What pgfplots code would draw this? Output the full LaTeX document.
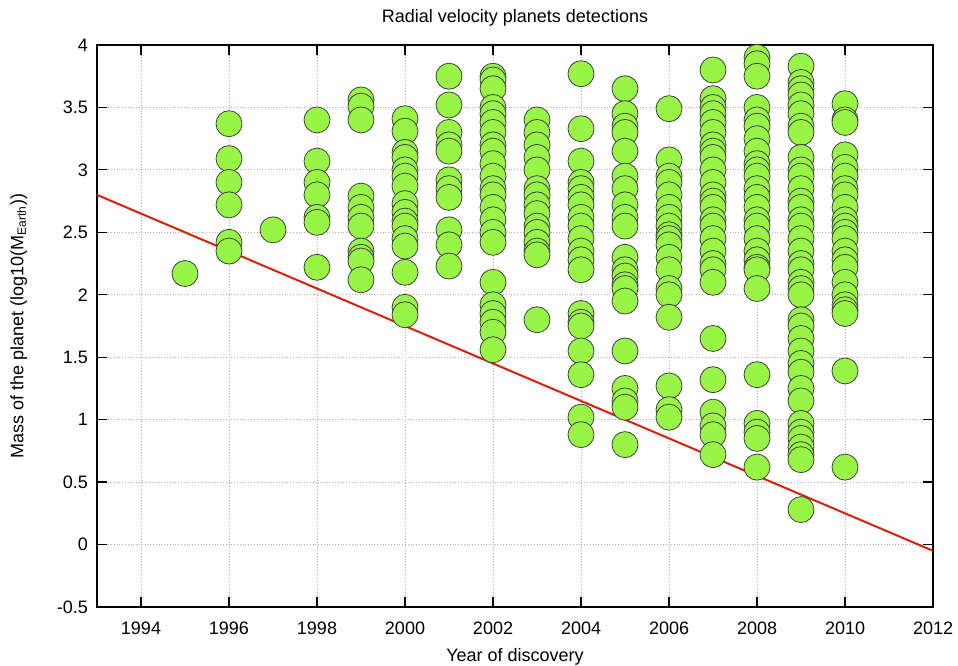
\documentclass[border=0pt]{standalone}
\usepackage{pgfplots}
\pgfplotsset{compat=1.18}
\usepackage{fontspec}
\setmainfont{Liberation Sans}
\definecolor{ptgreen}{RGB}{152,245,70}
\definecolor{fitred}{RGB}{218,32,12}

\pgfplotstableread{
year mass
1995 2.17
1996 3.37
1996 3.09
1996 2.90
1996 2.72
1996 2.42
1996 2.35
1997 2.52
1998 3.40
1998 3.07
1998 2.90
1998 2.80
1998 2.62
1998 2.58
1998 2.22
1999 3.56
1999 3.51
1999 3.40
1999 2.79
1999 2.70
1999 2.62
1999 2.55
1999 2.35
1999 2.30
1999 2.27
1999 2.12
2000 3.41
2000 3.31
2000 3.14
2000 3.10
2000 3.00
2000 2.95
2000 2.87
2000 2.73
2000 2.66
2000 2.59
2000 2.55
2000 2.45
2000 2.39
2000 2.18
2000 1.90
2000 1.84
2001 3.75
2001 3.52
2001 3.30
2001 3.20
2001 3.15
2001 2.92
2001 2.85
2001 2.78
2001 2.52
2001 2.40
2001 2.23
2002 3.75
2002 3.72
2002 3.65
2002 3.50
2002 3.45
2002 3.38
2002 3.30
2002 3.20
2002 3.15
2002 3.05
2002 2.95
2002 2.85
2002 2.80
2002 2.70
2002 2.60
2002 2.50
2002 2.42
2002 2.10
2002 1.92
2002 1.85
2002 1.78
2002 1.70
2002 1.56
2003 3.40
2003 3.30
2003 3.20
2003 3.10
2003 3.00
2003 2.85
2003 2.80
2003 2.72
2003 2.65
2003 2.55
2003 2.50
2003 2.42
2003 2.35
2003 2.32
2003 1.80
2004 3.77
2004 3.33
2004 3.07
2004 2.90
2004 2.85
2004 2.78
2004 2.72
2004 2.62
2004 2.55
2004 2.45
2004 2.35
2004 2.28
2004 2.20
2004 1.85
2004 1.78
2004 1.75
2004 1.55
2004 1.36
2004 1.02
2004 0.88
2005 3.65
2005 3.45
2005 3.35
2005 3.30
2005 3.15
2005 2.95
2005 2.85
2005 2.72
2005 2.62
2005 2.55
2005 2.30
2005 2.20
2005 2.15
2005 2.08
2005 2.05
2005 1.95
2005 1.55
2005 1.25
2005 1.15
2005 1.10
2005 0.80
2006 3.49
2006 3.08
2006 2.95
2006 2.90
2006 2.80
2006 2.70
2006 2.62
2006 2.55
2006 2.48
2006 2.45
2006 2.40
2006 2.30
2006 2.20
2006 2.05
2006 2.00
2006 1.82
2006 1.27
2006 1.08
2006 1.02
2007 3.80
2007 3.57
2007 3.50
2007 3.45
2007 3.38
2007 3.30
2007 3.20
2007 3.15
2007 3.10
2007 3.00
2007 2.90
2007 2.80
2007 2.75
2007 2.70
2007 2.60
2007 2.55
2007 2.45
2007 2.35
2007 2.25
2007 2.20
2007 2.10
2007 1.65
2007 1.32
2007 1.06
2007 0.95
2007 0.88
2007 0.72
2008 3.90
2008 3.85
2008 3.75
2008 3.50
2008 3.40
2008 3.35
2008 3.25
2008 3.15
2008 3.05
2008 3.00
2008 2.95
2008 2.85
2008 2.78
2008 2.70
2008 2.60
2008 2.55
2008 2.45
2008 2.35
2008 2.28
2008 2.22
2008 2.20
2008 2.05
2008 1.36
2008 0.97
2008 0.90
2008 0.85
2008 0.62
2009 3.83
2009 3.70
2009 3.65
2009 3.60
2009 3.52
2009 3.45
2009 3.35
2009 3.30
2009 3.10
2009 3.00
2009 2.95
2009 2.85
2009 2.75
2009 2.70
2009 2.60
2009 2.55
2009 2.45
2009 2.35
2009 2.25
2009 2.20
2009 2.10
2009 2.05
2009 2.00
2009 1.80
2009 1.75
2009 1.65
2009 1.55
2009 1.45
2009 1.38
2009 1.25
2009 1.15
2009 0.97
2009 0.90
2009 0.85
2009 0.78
2009 0.72
2009 0.68
2009 0.28
2010 3.53
2010 3.40
2010 3.38
2010 3.12
2010 3.02
2010 2.95
2010 2.85
2010 2.80
2010 2.70
2010 2.60
2010 2.55
2010 2.50
2010 2.45
2010 2.35
2010 2.28
2010 2.22
2010 2.10
2010 2.00
2010 1.92
2010 1.88
2010 1.85
2010 1.39
2010 0.62
}\planets

\begin{document}
\begin{tikzpicture}
\begin{axis}[
    scale only axis,
    width=418pt, height=281pt,
    xmin=1993, xmax=2012,
    ymin=-0.5, ymax=4,
    xtick={1994,1996,...,2012},
    ytick={-0.5,0,...,4},
    tick align=inside,
    major tick length=5pt,
    tick style={black, line width=0.6pt},
    axis line style={black, line width=0.8pt},
    grid=major,
    grid style={gray!60, densely dotted, line width=0.4pt},
    font=\fontsize{9}{11}\selectfont,
    /pgf/number format/assume math mode=true,
    x tick label style={/pgf/number format/1000 sep={}, yshift=-4pt},
    y tick label style={xshift=-1pt},
    title={Radial velocity planets detections},
    title style={yshift=0pt},
    xlabel={Year of discovery},
    ylabel={Mass of the planet (log10(M\textsubscript{Earth}))},
    xlabel style={yshift=0pt},
    ylabel style={yshift=8pt},
    clip=true,
]
\addplot[only marks, mark=*, mark size=6.5pt,
    mark options={fill=ptgreen, draw=black!75, line width=0.4pt}]
    table[x=year, y=mass] {\planets};
\addplot[fitred, line width=1pt] coordinates {(1993,2.80) (2012,-0.05)};
\coordinate (sw) at (rel axis cs:0,0);
\coordinate (ne) at (rel axis cs:1,1);
\end{axis}
\pgfresetboundingbox
\path ([shift={(-48.5pt,-29.5pt)}]sw) rectangle ([shift={(12.5pt,22.5pt)}]ne);
\end{tikzpicture}
\end{document}
